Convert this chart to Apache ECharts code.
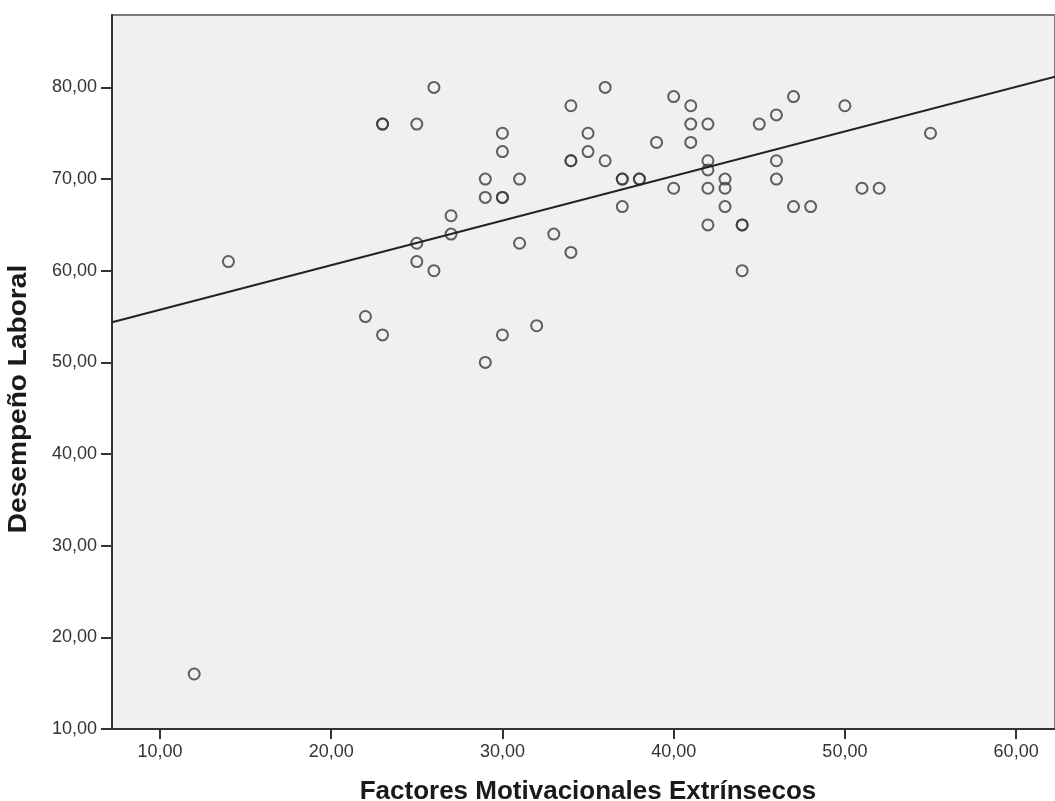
<!DOCTYPE html>
<html>
<head>
<meta charset="utf-8">
<script src="https://cdn.jsdelivr.net/npm/echarts@6/dist/echarts.min.js"></script>
<style>
  html, body { margin: 0; padding: 0; background: #fff; }
  #chart { width: 1055px; height: 801px; }
</style>
</head>
<body>
<div id="chart"></div>
<script>
// datos (duplicados = circulos mas gruesos)
const factores = [12, 14, 22, 23, 23, 23, 25, 25, 25, 26, 26, 27, 27, 29, 29, 29, 30, 30, 30, 30, 30, 31, 31, 32, 33,
  34, 34, 34, 34, 35, 35, 36, 36, 37, 37, 37, 38, 38, 39, 40, 40, 41, 41, 41, 42, 42, 42, 42, 42,
  43, 43, 43, 44, 44, 44, 45, 46, 46, 46, 47, 47, 48, 50, 51, 52, 55];
const desempeno = [16, 61, 55, 76, 76, 53, 76, 63, 61, 80, 60, 66, 64, 70, 68, 50, 75, 73, 68, 68, 53, 70, 63, 54, 64,
  78, 72, 72, 62, 75, 73, 80, 72, 70, 70, 67, 70, 70, 74, 79, 69, 78, 76, 74, 76, 72, 71, 69, 65,
  70, 69, 67, 65, 65, 60, 76, 77, 72, 70, 79, 67, 67, 78, 69, 69, 75];
const xTicks = [10, 20, 30, 40, 50, 60];
const yTicks = [10, 20, 30, 40, 50, 60, 70, 80];
const xRange = [7.2, 62.27];
const yRange = [10, 87.9];

// recta de regresion (minimos cuadrados)
function ajuste(xs, ys) {
  let n = xs.length, mx = 0, my = 0;
  for (let i = 0; i < n; i++) { mx += xs[i]; my += ys[i]; }
  mx /= n; my /= n;
  let sxy = 0, sxx = 0;
  for (let i = 0; i < n; i++) {
    sxy += (xs[i] - mx) * (ys[i] - my);
    sxx += (xs[i] - mx) * (xs[i] - mx);
  }
  let b = sxy / sxx;
  return { a: my - b * mx, b: b };
}
const fit = ajuste(factores, desempeno);
const puntos = factores.map((x, i) => [x, desempeno[i]]);
const recta = xRange.map(x => [x, fit.a + fit.b * x]);

const fmt = v => v.toFixed(2).replace('.', ',');

let chart = echarts.init(document.getElementById('chart'));
let option = {
  animation: false,
  grid: {
    left: 112, top: 15, right: -2, bottom: 72,
    show: true,
    backgroundColor: '#f0f0f0',
    borderColor: '#7a7a7a',
    borderWidth: 2
  },
  xAxis: {
    type: 'value',
    min: xRange[0], max: xRange[1],
    axisLine: { onZero: false, lineStyle: { color: '#333', width: 2 } },
    axisTick: { show: true, length: 10, customValues: xTicks, lineStyle: { color: '#333', width: 2 } },
    axisLabel: { customValues: xTicks, formatter: fmt, margin: 14, color: '#333', fontSize: 18, fontFamily: 'Liberation Sans' },
    splitLine: { show: false }
  },
  yAxis: {
    type: 'value',
    min: yRange[0], max: yRange[1],
    axisLine: { show: true, onZero: false, lineStyle: { color: '#333', width: 2 } },
    axisTick: { show: true, length: 11, customValues: yTicks, lineStyle: { color: '#333', width: 2 } },
    axisLabel: { customValues: yTicks, formatter: fmt, margin: 15, color: '#333', fontSize: 18, fontFamily: 'Liberation Sans' },
    splitLine: { show: false }
  },
  graphic: [
    {
      type: 'text', x: 588, y: 792,
      style: { text: 'Factores Motivacionales Extrínsecos', x: 0, y: 0, align: 'center', verticalAlign: 'middle',
        font: 'bold 26px "Liberation Sans"', fill: '#1a1a1a' }
    },
    {
      type: 'text', x: 19, y: 399, rotation: Math.PI / 2, scaleX: 1.08,
      style: { text: 'Desempeño Laboral', x: 0, y: 0, align: 'center', verticalAlign: 'middle',
        font: 'bold 26px "Liberation Sans"', fill: '#1a1a1a' }
    }
  ],
  series: [
    {
      type: 'scatter',
      data: puntos,
      symbol: 'circle',
      symbolSize: 11,
      itemStyle: { color: 'rgba(0,0,0,0)', borderColor: '#3a3a3a', borderWidth: 2 }
    },
    {
      type: 'line',
      data: recta,
      symbol: 'none',
      z: 3,
      lineStyle: { color: '#222', width: 2 }
    }
  ]
};
chart.setOption(option);
</script>
</body>
</html>
